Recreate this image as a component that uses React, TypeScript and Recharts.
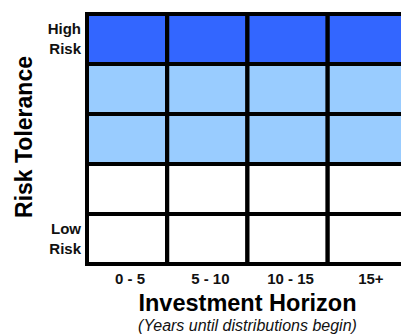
import React from 'react';
import { BarChart, Bar, XAxis, YAxis, Cell } from 'recharts';

// investment horizon columns
const horizons = ['0 - 5', '5 - 10', '10 - 15', '15+'];
// risk rows, bottom (low) to top (high); every cell is one unit tall
const riskRows = ['r0', 'r1', 'r2', 'r3', 'r4'];
const rowSize = [1, 1, 1, 1, 1];
const riskTicks = [0.5, 4.5];
const riskTickLabels: Record<string, string[]> = {
  '0.5': ['Low', 'Risk'],
  '4.5': ['High', 'Risk'],
};

const rowColors = ['#FFFFFF', '#FFFFFF', '#99CCFF', '#99CCFF', '#3366FF'];
const FONT = 'Arial, "Liberation Sans", Helvetica, sans-serif';

const data = horizons.map((h) => {
  const row: Record<string, string | number> = { horizon: h };
  riskRows.forEach((k, i) => {
    row[k] = rowSize[i];
  });
  return row;
});

function RiskTick(props: any) {
  const { y, payload } = props;
  const lines = riskTickLabels[String(payload.value)] || [];
  return (
    <text
      x={81}
      y={y}
      textAnchor="end"
      fontFamily={FONT}
      fontWeight="bold"
      fontSize={15}
      fill="#111"
    >
      <tspan x={81} dy={-5}>{lines[0]}</tspan>
      <tspan x={81} dy={20}>{lines[1]}</tspan>
    </text>
  );
}

function HorizonTick(props: any) {
  const { x, y, payload } = props;
  return (
    <text
      x={x + 3}
      y={y + 12}
      textAnchor="middle"
      fontFamily={FONT}
      fontWeight="bold"
      fontSize={15}
      fill="#111"
    >
      {payload.value}
    </text>
  );
}

function XTitle(props: any) {
  const vb = props.viewBox || {};
  const cx = vb.x + vb.width / 2;
  return (
    <g>
      <text
        x={cx}
        y={vb.y + 47}
        textAnchor="middle"
        fontFamily={FONT}
        fontWeight="bold"
        fontSize={23.5}
        fill="#000"
      >
        Investment Horizon
      </text>
      <text
        x={cx}
        y={vb.y + 67}
        textAnchor="middle"
        fontFamily={FONT}
        fontStyle="italic"
        fontSize={16}
        fill="#111"
      >
        (Years until distributions begin)
      </text>
    </g>
  );
}

function YTitle(props: any) {
  const vb = props.viewBox || {};
  const cx = 32;
  const cy = vb.y + vb.height / 2 - 2;
  return (
    <text
      x={cx}
      y={cy}
      transform={`rotate(-90, ${cx}, ${cy})`}
      textAnchor="middle"
      fontFamily={FONT}
      fontWeight="bold"
      fontSize={23}
      fill="#000"
    >
      Risk Tolerance
    </text>
  );
}

export default function App() {
  return (
    <div
      style={{
        position: 'absolute',
        left: 0,
        top: 0,
        width: 401,
        height: 335,
        overflow: 'hidden',
        background: '#fff',
      }}
    >
      <BarChart
        width={420}
        height={335}
        data={data}
        margin={{ top: 14, right: 12, left: 0, bottom: 0 }}
        barCategoryGap={0}
        barGap={0}
      >
        <XAxis
          dataKey="horizon"
          axisLine={false}
          tickLine={false}
          height={71}
          tick={<HorizonTick />}
          interval={0}
          label={<XTitle />}
        />
        <YAxis
          type="number"
          domain={[0, 5]}
          ticks={riskTicks}
          axisLine={false}
          tickLine={false}
          width={87}
          tick={<RiskTick />}
          label={<YTitle />}
        />
        {riskRows.map((k, i) => (
          <Bar
            key={k}
            dataKey={k}
            stackId="grid"
            fill={rowColors[i]}
            stroke="#000"
            strokeWidth={4}
            isAnimationActive={false}
          >
            {data.map((d) => (
              <Cell key={String(d.horizon)} fill={rowColors[i]} />
            ))}
          </Bar>
        ))}
      </BarChart>
    </div>
  );
}
